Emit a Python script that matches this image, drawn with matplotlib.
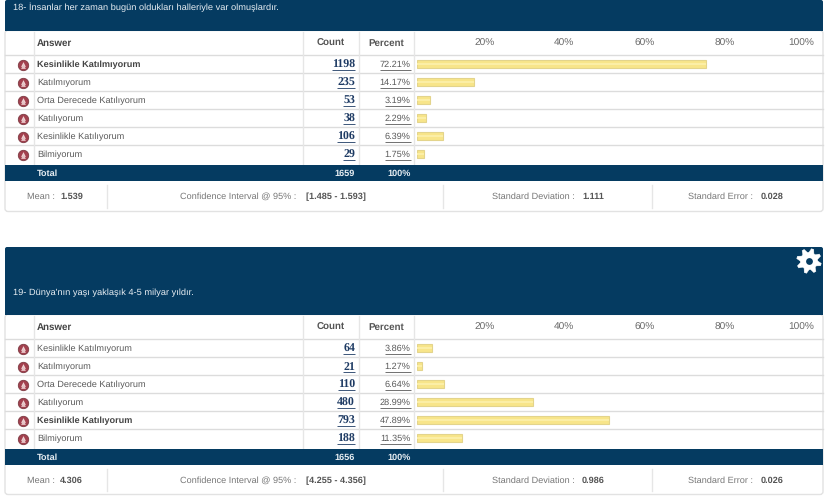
import matplotlib
matplotlib.use("Agg")
import matplotlib.pyplot as plt
import numpy as np
from matplotlib.patches import Rectangle, FancyBboxPatch, PathPatch
from matplotlib.path import Path

plt.rcParams['font.family'] = ['Liberation Sans', 'DejaVu Sans']
plt.rcParams['text.hinting'] = 'no_hinting'

# ---- data ----
answers = ["Kesinlikle Katılmıyorum", "Katılmıyorum", "Orta Derecede Katılıyorum",
           "Katılıyorum", "Kesinlikle Katılıyorum", "Bilmiyorum"]
percent_ticks = [20, 40, 60, 80, 100]

title_18 = "18- İnsanlar her zaman bugün oldukları halleriyle var olmuşlardır."
counts_18 = [1198, 235, 53, 38, 106, 29]
percents_18 = [72.21, 14.17, 3.19, 2.29, 6.39, 1.75]
total_18 = 1659
stats_18 = ["1.539", "[1.485 - 1.593]", "1.111", "0.028"]

title_19 = "19- Dünya'nın yaşı yaklaşık 4-5 milyar yıldır."
counts_19 = [64, 21, 110, 480, 793, 188]
percents_19 = [3.86, 1.27, 6.64, 28.99, 47.89, 11.35]
total_19 = 1656
stats_19 = ["4.306", "[4.255 - 4.356]", "0.986", "0.026"]

NAVY = "#053b61"
GREY = "#5a5a5a"
LINE = "#dcdcdc"
LINK = "#1d3a63"
W, H = 825, 496
FS = 6.6

fig = plt.figure(figsize=(W / 100, H / 100), dpi=100, facecolor="white")
bg = fig.add_axes([0, 0, 1, 1])
bg.set_xlim(0, W)
bg.set_ylim(H, 0)
bg.axis("off")


def underlined(x, y, s, line_y, **kw):
    t = bg.text(x, y, s, ha="right", va="center", **kw)
    ext = t.get_window_extent(fig.canvas.get_renderer())
    bg.plot([x - ext.width, x], [line_y, line_y], color=kw["color"], lw=0.6,
            solid_capstyle="butt", zorder=5)


def panel(band_top, head_top, title, title_y, counts, percents, total, stats, bottom):
    rows_top = head_top + 24.5
    rows_bottom = rows_top + 109
    bg.add_patch(FancyBboxPatch((5, head_top), 818, bottom - head_top - 1,
                                boxstyle="round,pad=0,rounding_size=3",
                                fc="white", ec="#e2e2e2", lw=1))
    bg.add_patch(FancyBboxPatch((5, band_top), 818, head_top - band_top,
                                boxstyle="round,pad=0,rounding_size=2",
                                fc=NAVY, ec=NAVY, lw=0))
    bg.add_patch(Rectangle((5, head_top - 3), 818, 3, fc=NAVY, ec=NAVY, lw=0))
    bg.text(13, title_y, title, color="#e8eef3", fontsize=6.7, va="center")

    # grid of the table
    for i in range(6):
        y = rows_top + i * 18
        bg.plot([5, 823], [y, y], color=LINE, lw=1, zorder=1)
    for x in (34, 303, 358.5, 414):
        bg.plot([x, x], [head_top + 1, rows_bottom], color="#e6e6e6", lw=1, zorder=1)

    # header row
    hy = head_top + 12.8
    bg.text(37, hy, "Answer", color="#444444", fontsize=7, fontweight="bold", va="center")
    bg.text(330.5, hy, "Count", color="#555555", fontsize=7, fontweight="bold", va="center", ha="center")
    bg.text(386, hy, "Percent", color="#555555", fontsize=7, fontweight="bold", va="center", ha="center")

    # rows
    top = max(counts)
    for i, (a, c, p) in enumerate(zip(answers, counts, percents)):
        y = rows_top + 9 + i * 18
        bg.scatter([22.5], [y + 0.6], s=56, color="#a3414f", edgecolors="#7d3a42", linewidths=0.6, zorder=3)
        bg.scatter([22.5], [y - 0.4], s=12, marker="^", color="#f0d5d6", linewidths=0, zorder=4)
        bg.scatter([22.5], [y + 2.2], s=12, marker="^", color="#e6c3c5", linewidths=0, zorder=4)
        heavy = c == top
        bg.text(37, y + 0.6, a, color="#444444" if heavy else GREY, fontsize=FS,
                fontweight="bold" if heavy else "normal", va="center")
        underlined(355, y + 1.4, str(c), y + 6.2, color=LINK, fontsize=8.6, fontweight="bold",
                   family=["Liberation Serif"])
        underlined(410.5, y + 0.6, f"{p:.2f}%", y + 5.6, color=GREY, fontsize=FS)

    # total band
    bg.add_patch(Rectangle((5, rows_bottom + 0.5), 818, 16.5, fc=NAVY, ec=NAVY, lw=0, zorder=2))
    ty = rows_bottom + 9.4
    bg.text(37, ty, "Total", color="#e8eef3", fontsize=FS, fontweight="bold", va="center", zorder=3)
    bg.text(355, ty, str(total), color="#e8eef3", fontsize=FS, fontweight="bold", va="center", ha="right", zorder=3)
    bg.text(410.5, ty, "100%", color="#e8eef3", fontsize=FS, fontweight="bold", va="center", ha="right", zorder=3)

    # statistics strip
    sy = rows_bottom + 32.6
    for x in (107, 443, 652):
        bg.plot([x, x], [rows_bottom + 21, bottom - 5], color="#e6e6e6", lw=1)
    labels = ["Mean :", "Confidence Interval @ 95% :", "Standard Deviation :", "Standard Error :"]
    label_x = [55, 296, 575, 753]
    value_x = [60, 306, 582, 761]
    for s, lx, vx, v in zip(labels, label_x, value_x, stats):
        bg.text(lx, sy, s, color="#777777", fontsize=FS, va="center", ha="right")
        bg.text(vx, sy, v, color="#555555", fontsize=FS, fontweight="bold", va="center")

    # bars on their own 0-100 % scale
    ax = fig.add_axes([417 / W, 1 - (rows_top + 108) / H, 400 / W, 108 / H])
    ax.patch.set_alpha(0)
    ax.set_xlim(0, 100)
    ax.set_ylim(5.5, -0.5)
    ax.barh(range(6), percents, height=0.46, color="#f8e58a", edgecolor="#e3d48c", linewidth=0.8)
    ax.barh(range(6), percents, height=0.12, color="#fbeea6", linewidth=0)
    ax.set_yticks([])
    ax.xaxis.tick_top()
    ax.set_xticks(percent_ticks)
    ax.set_xticklabels([f"{t}%" for t in percent_ticks], ha="right", color="#6a6a6a", fontsize=7.3)
    ax.tick_params(axis="x", length=0, pad=5.0)
    for lab in ax.get_xticklabels():
        lab.set_transform(lab.get_transform() + matplotlib.transforms.ScaledTranslation(-2.5 / 100, 0, fig.dpi_scale_trans))
    for s in ax.spines.values():
        s.set_visible(False)


panel(0, 30.5, title_18, 7.5, counts_18, percents_18, total_18, stats_18, 212.5)
panel(247, 314.5, title_19, 292.5, counts_19, percents_19, total_19, stats_19, 495.5)

# settings gear in the second header
gx, gy = 809, 261
n_teeth = 8
angles = np.linspace(0, 2 * np.pi, n_teeth * 4, endpoint=False) + np.pi / 8 - np.pi / 16
radii = np.tile([12.5, 12.5, 8.8, 8.8], n_teeth)
outer = np.column_stack([gx + radii * np.cos(angles), gy + radii * np.sin(angles)])
verts = np.vstack([outer, outer[0]])
codes = [Path.MOVETO] + [Path.LINETO] * (len(outer) - 1) + [Path.CLOSEPOLY]
bg.add_patch(PathPatch(Path(verts, codes), fc="white", ec="white", lw=0.3, zorder=6))
bg.scatter([gx], [gy], s=24, marker="o", color=NAVY, linewidths=0, zorder=7)

fig.savefig("out.png", dpi=100, facecolor="white")
